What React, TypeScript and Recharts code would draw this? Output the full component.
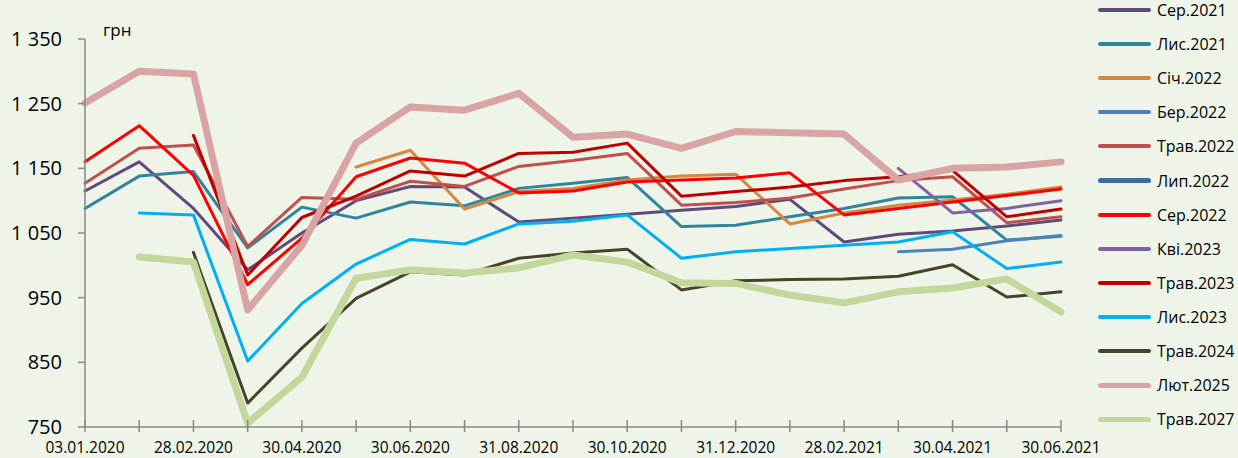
import { LineChart, Line, XAxis, YAxis } from 'recharts';

// ---------------------------------------------------------------------------
// Data
// ---------------------------------------------------------------------------

const dates = [
  '03.01.2020', '31.01.2020', '28.02.2020', '31.03.2020', '30.04.2020', '29.05.2020',
  '30.06.2020', '31.07.2020', '31.08.2020', '30.09.2020', '30.10.2020', '30.11.2020',
  '31.12.2020', '29.01.2021', '28.02.2021', '31.03.2021', '30.04.2021', '31.05.2021',
  '30.06.2021',
];

const yTicks = [750, 850, 950, 1050, 1150, 1250, 1350];

const N = null;
const ser2021 = [1115, 1160, 1088, 993, 1050, 1100, 1122, 1121, 1067, 1073, 1079, 1085, 1091, 1102, 1036, 1048, 1053, 1061, 1070];
const lys2021 = [1088, 1138, 1145, 1027, 1090, 1073, 1098, 1092, 1119, 1127, 1136, 1060, 1062, 1075, 1088, 1104, 1106, 1039, 1045];
const sich2022 = [N, N, N, N, N, 1152, 1178, 1087, 1114, 1119, 1132, 1138, 1141, 1064, 1081, 1093, 1101, 1110, 1121];
const ber2022 = [N, N, N, N, N, N, N, N, N, N, N, N, N, N, N, 1021, 1025, 1038, 1046];
const trav2022 = [1127, 1181, 1186, 1029, 1105, 1102, 1130, 1122, 1153, 1162, 1173, 1093, 1097, 1104, 1118, 1131, 1137, 1066, 1075];
const lyp2022 = [N, N, N, N, N, N, N, N, N, N, N, N, N, N, N, N, N, N, N];
const ser2022 = [1160, 1216, 1139, 970, 1042, 1137, 1166, 1158, 1112, 1115, 1129, 1132, 1135, 1143, 1078, 1088, 1098, 1108, 1118];
const kvi2023 = [N, N, N, N, N, N, N, N, N, N, N, N, N, N, N, 1150, 1081, 1088, 1100];
const trav2023 = [N, N, 1201, 985, 1074, 1107, 1146, 1138, 1173, 1175, 1189, 1107, 1114, 1121, 1131, 1137, 1147, 1075, 1087];
const lys2023 = [N, 1081, 1078, 852, 941, 1002, 1040, 1033, 1064, 1068, 1078, 1011, 1021, 1026, 1031, 1036, 1052, 995, 1005];
const trav2024 = [N, N, 1020, 787, 872, 949, 990, 985, 1011, 1019, 1025, 962, 976, 978, 979, 983, 1001, 951, 959];
const lyut2025 = [1251, 1300, 1296, 931, 1031, 1189, 1245, 1240, 1266, 1198, 1203, 1181, 1207, 1205, 1203, 1132, 1150, 1152, 1160];
const trav2027 = [N, 1013, 1005, 756, 827, 980, 993, 988, 996, 1016, 1005, 973, 972, 954, 942, 959, 965, 979, 928];

const SERIES = [
  { key: 'Сер.2021', values: ser2021, color: '#604A7B', width: 3 },
  { key: 'Лис.2021', values: lys2021, color: '#31849B', width: 3 },
  { key: 'Січ.2022', values: sich2022, color: '#D5873F', width: 3 },
  { key: 'Бер.2022', values: ber2022, color: '#4F81BD', width: 3 },
  { key: 'Трав.2022', values: trav2022, color: '#C0504D', width: 3 },
  { key: 'Лип.2022', values: lyp2022, color: '#3E6A9E', width: 5 },
  { key: 'Сер.2022', values: ser2022, color: '#FF0000', width: 3 },
  { key: 'Кві.2023', values: kvi2023, color: '#8064A2', width: 3 },
  { key: 'Трав.2023', values: trav2023, color: '#C00000', width: 3 },
  { key: 'Лис.2023', values: lys2023, color: '#00B0F0', width: 3 },
  { key: 'Трав.2024', values: trav2024, color: '#494429', width: 3 },
  { key: 'Лют.2025', values: lyut2025, color: '#D8A4A4', width: 7 },
  { key: 'Трав.2027', values: trav2027, color: '#C3D69B', width: 7 },
];

const FONT = '"Open Sans", "Noto Sans", sans-serif';
const AXIS_COLOR = '#8a8a8a';

const fmt = (v: number) => {
  const s = String(v);
  return s.length > 3 ? `${s.slice(0, -3)} ${s.slice(-3)}` : s;
};

function XTick(props: any) {
  const { x, y, payload, index } = props;
  return (
    <g>
      <line x1={x} x2={x} y1={y - 7} y2={y + 5} stroke={AXIS_COLOR} strokeWidth={1.5} />
      {index % 2 === 0 && (
        <text x={x} y={y + 26} textAnchor="middle" fontSize={15.5} fontFamily={FONT} fill="#000">
          {payload.value}
        </text>
      )}
    </g>
  );
}

export default function App() {
  const data = dates.map((d, i) => {
    const row: Record<string, string | number | null> = { date: d };
    SERIES.forEach((s) => {
      row[s.key] = s.values[i];
    });
    return row;
  });

  return (
    <div
      style={{
        position: 'fixed',
        left: 0,
        top: 0,
        width: 1238,
        height: 458,
        background: '#EEF5E8',
        overflow: 'hidden',
        fontFamily: FONT,
      }}
    >
      <LineChart width={1238} height={458} data={data} margin={{ top: 39, right: 177, bottom: 0, left: 0 }}>
        <XAxis
          dataKey="date"
          height={31}
          interval={0}
          tickSize={0}
          tickMargin={0}
          tick={<XTick />}
          axisLine={{ stroke: AXIS_COLOR, strokeWidth: 1.5 }}
        />
        <YAxis
          width={85}
          domain={[750, 1350]}
          ticks={yTicks}
          interval={0}
          tickFormatter={fmt}
          tickSize={7}
          tickMargin={16}
          tick={{ fontSize: 20, fill: '#000', fontFamily: FONT }}
          tickLine={{ stroke: AXIS_COLOR, strokeWidth: 1.5 }}
          axisLine={{ stroke: AXIS_COLOR, strokeWidth: 1.5 }}
        />
        {SERIES.map((s) => (
          <Line
            key={s.key}
            type="linear"
            dataKey={s.key}
            stroke={s.color}
            strokeWidth={s.width}
            strokeLinejoin="round"
            strokeLinecap="round"
            dot={false}
            activeDot={false}
            isAnimationActive={false}
          />
        ))}
      </LineChart>

      {/* unit label */}
      <div style={{ position: 'absolute', left: 103, top: 18, fontSize: 17, lineHeight: '24px', color: '#000' }}>
        грн
      </div>

      {/* legend */}
      {SERIES.map((s, i) => {
        const yc = 10 + 34.1 * i;
        return (
          <div
            key={s.key}
            style={{
              position: 'absolute',
              left: 1098,
              top: yc - 10,
              height: 20,
              display: 'flex',
              alignItems: 'center',
              whiteSpace: 'nowrap',
            }}
          >
            <div
              style={{
                width: 53,
                height: s.width > 3 ? 5 : 4,
                borderRadius: 3,
                background: s.color,
                marginRight: 6,
              }}
            />
            <span style={{ fontSize: 16, color: '#000', lineHeight: '20px' }}>{s.key}</span>
          </div>
        );
      })}
    </div>
  );
}
